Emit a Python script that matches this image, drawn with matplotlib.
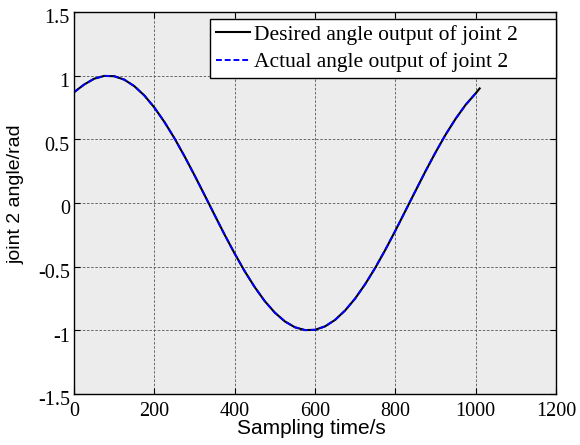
import matplotlib
matplotlib.use('Agg')
import matplotlib.pyplot as plt
from matplotlib.transforms import ScaledTranslation

# sampling time (s) and joint 2 angle (rad)
t_desired = [0, 25, 50, 75, 100, 125, 150, 175, 200, 225, 250, 275, 300, 325, 350,
             375, 400, 425, 450, 475, 500, 525, 550, 575, 600, 625, 650, 675, 700,
             725, 750, 775, 800, 825, 850, 875, 900, 925, 950, 975, 1000, 1010]
q_desired = [0.87, 0.93, 0.976, 0.998, 0.996, 0.969, 0.918, 0.845, 0.75, 0.637, 0.509,
             0.368, 0.218, 0.063, -0.094, -0.249, -0.397, -0.536, -0.661, -0.771,
             -0.861, -0.93, -0.976, -0.998, -0.996, -0.969, -0.918, -0.844, -0.75,
             -0.637, -0.509, -0.368, -0.218, -0.062, 0.094, 0.249, 0.397, 0.536,
             0.661, 0.771, 0.861, 0.90]
t_actual = t_desired[:-1]
q_actual = q_desired[:-1]

xticks = [0, 200, 400, 600, 800, 1000, 1200]
yticks = [-1.5, -1, -0.5, 0, 0.5, 1, 1.5]
yticklabels = ['-1.5', '-1', '-0.5', '0', '0.5', '1', '1.5']

serif = ['Liberation Serif', 'DejaVu Serif']
sans = ['Liberation Sans', 'DejaVu Sans']

fig = plt.figure(figsize=(5.8, 4.45), dpi=100)
ax = fig.add_axes([0.1276, 0.1146, 0.831, 0.8584])
ax.set_facecolor('#ececec')

# trailing spaces give the wide right margin of the original legend box
ax.plot(t_desired, q_desired, color='black', lw=1.5,
        label='Desired angle output of joint 2      ')
ax.plot(t_actual, q_actual, color='blue', lw=1.4, ls=(0, (3, 1.5)),
        label='Actual angle output of joint 2      ')

ax.set_xlim(0, 1200)
ax.set_ylim(-1.5, 1.5)
ax.set_xticks(xticks)
ax.set_yticks(yticks)
ax.set_yticklabels(yticklabels)
ax.tick_params(direction='in', top=True, right=True, length=4, width=0.8)
ax.tick_params(axis='x', pad=5.5)
ax.tick_params(axis='y', pad=3)
for lab in ax.get_xticklabels() + ax.get_yticklabels():
    lab.set_family(serif)
    lab.set_fontsize(14.5)
shift = ScaledTranslation(0, -3 / 72, fig.dpi_scale_trans)
for lab in ax.get_yticklabels():
    lab.set_transform(lab.get_transform() + shift)
ax.grid(True, color='#555555', ls=(0, (3, 2)), lw=0.6)
for s in ax.spines.values():
    s.set_linewidth(1.0)

ax.set_xlabel('Sampling time/s', family=sans, fontsize=15)
ax.xaxis.set_label_coords(0.493, -0.066)
ax.set_ylabel('joint 2 angle/rad', family=sans, fontsize=14)
ax.yaxis.set_label_coords(-0.102, 0.524)

leg = ax.legend(loc='upper right', bbox_to_anchor=(1.0, 0.981),
                prop={'family': serif, 'size': 15.5},
                fancybox=False, framealpha=1, edgecolor='black',
                borderaxespad=0, handlelength=1.6, handletextpad=0.2,
                borderpad=0.26, labelspacing=0.34)
leg.get_frame().set_linewidth(1.0)

fig.savefig('out.png', dpi=100)
